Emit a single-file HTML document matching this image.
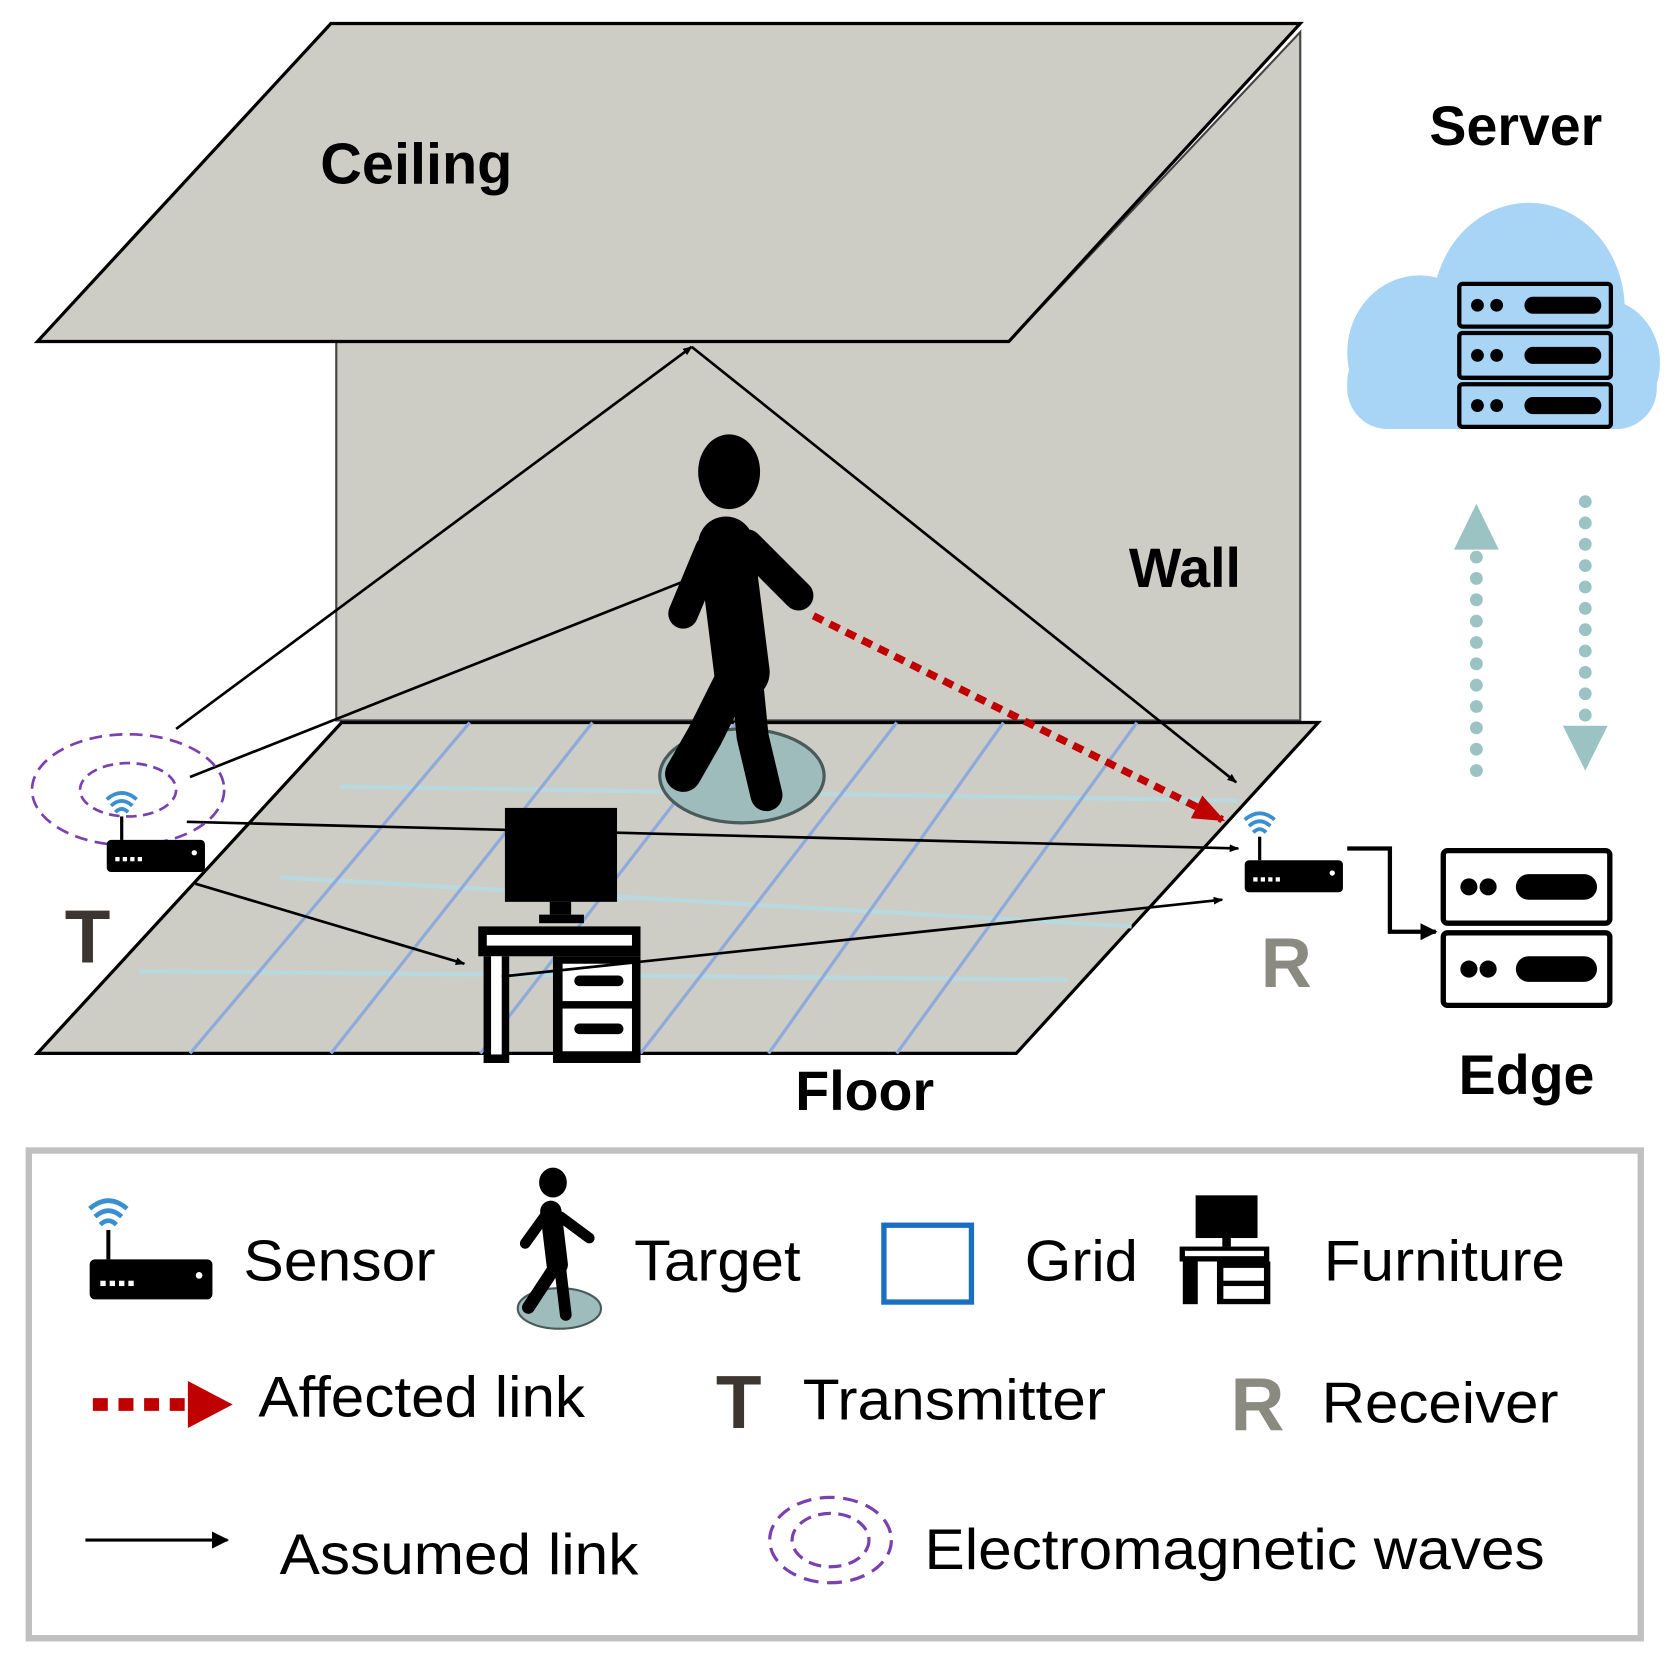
<!DOCTYPE html>
<html><head><meta charset="utf-8"><style>html,body{margin:0;padding:0;background:#fff}svg{display:block}</style></head>
<body>
<svg width="1676" height="1666" viewBox="0 0 1570 1561" preserveAspectRatio="none" xmlns="http://www.w3.org/2000/svg" font-family="Liberation Sans, Arial, sans-serif">
<defs>
<marker id="ah" viewBox="0 0 10 10" refX="9" refY="5" markerWidth="9" markerHeight="9" orient="auto" markerUnits="userSpaceOnUse"><path d="M0,1 L10,5 L0,9 z" fill="#000"/></marker>
<marker id="ahb" viewBox="0 0 10 10" refX="9" refY="5" markerWidth="16" markerHeight="16" orient="auto" markerUnits="userSpaceOnUse"><path d="M0,0 L10,5 L0,10 z" fill="#000"/></marker>
<marker id="ahr" viewBox="0 0 10 10" refX="9" refY="5" markerWidth="30" markerHeight="30" orient="auto" markerUnits="userSpaceOnUse"><path d="M0,1 L10,5 L0,9 z" fill="#c00000"/></marker>
<g id="router"><rect x="0" y="0" width="92" height="30" rx="4" fill="#000"/><rect x="8" y="16" width="4" height="4" fill="#fff"/><rect x="15" y="16" width="4" height="4" fill="#fff"/><rect x="22" y="16" width="4" height="4" fill="#fff"/><rect x="29" y="16" width="4" height="4" fill="#fff"/><circle cx="82" cy="12" r="2.5" fill="#fff"/><line x1="14" y1="0" x2="14" y2="-22" stroke="#000" stroke-width="3"/>
<path d="M8,-26 Q14,-32 20,-26 M4,-32 Q14,-41 24,-32 M0,-38 Q14,-50 28,-38" fill="none" stroke="#3a8fd0" stroke-width="3.5"/></g>
<g id="srv"><rect x="0" y="0" width="156" height="68" rx="4" fill="#fff" stroke="#000" stroke-width="5"/><circle cx="24" cy="34" r="8" fill="#000"/><circle cx="42" cy="34" r="8" fill="#000"/><rect x="68" y="22" width="76" height="24" rx="12" fill="#000"/></g>
</defs>

<!-- wall -->
<polygon points="315,320 945,320 1218,30 1218,675 315,675" fill="#cdcdc5" stroke="#444" stroke-width="2"/>
<!-- ceiling -->
<polygon points="35,320 310,22 1218,22 945,320" fill="#cdcdc5" stroke="#000" stroke-width="3"/>
<!-- floor -->
<polygon points="35,987 320,677 1235,677 952,987" fill="#cdcdc5" stroke="#000" stroke-width="3"/>
<!-- grid -->
<g stroke="#b9d9e0" stroke-width="4"><line x1="318" y1="737" x2="1160" y2="750"/><line x1="262" y1="822" x2="1060" y2="868"/><line x1="130" y1="910" x2="1000" y2="918"/></g>
<g stroke="#8eaadc" stroke-width="3"><line x1="178" y1="987" x2="440" y2="677"/><line x1="310" y1="987" x2="555" y2="677"/><line x1="450" y1="987" x2="690" y2="677"/><line x1="600" y1="987" x2="840" y2="677"/><line x1="720" y1="987" x2="940" y2="677"/><line x1="840" y1="987" x2="1065" y2="677"/></g>

<!-- shadow & person -->
<ellipse cx="695" cy="727" rx="77" ry="44" fill="#9fbcbc" stroke="#4a5a5a" stroke-width="3"/>
<ellipse cx="683" cy="442" rx="29" ry="35" fill="#000"/>
<g stroke="#000" stroke-linecap="round" stroke-linejoin="round" fill="none">
<path d="M680,510 L695,630" stroke-width="52"/>
<path d="M665,515 L640,575" stroke-width="28"/>
<path d="M700,510 L748,558" stroke-width="28"/>
<path d="M685,640 L660,690 L640,725" stroke-width="34"/>
<path d="M700,640 L705,690 L718,745" stroke-width="30"/>
</g>

<!-- desk -->
<rect x="473" y="757" width="105" height="88" fill="#000"/>
<rect x="515" y="845" width="20" height="12" fill="#000"/>
<rect x="505" y="857" width="42" height="8" fill="#000"/>
<rect x="448" y="868" width="152" height="28" fill="#000"/><rect x="456" y="876" width="136" height="10" fill="#fff"/>
<rect x="453" y="896" width="24" height="100" fill="#000"/><rect x="460" y="896" width="10" height="92" fill="#fff"/>
<rect x="518" y="896" width="82" height="100" fill="#000"/>
<rect x="527" y="903" width="65" height="35" fill="#fff"/><rect x="527" y="945" width="65" height="40" fill="#fff"/>
<rect x="538" y="914" width="46" height="10" rx="5" fill="#000"/><rect x="538" y="959" width="46" height="10" rx="5" fill="#000"/>

<!-- links -->
<g stroke="#000" stroke-width="2.5" fill="none" marker-end="url(#ah)">
<line x1="165" y1="683" x2="648" y2="325"/>
<line x1="648" y1="325" x2="1158" y2="733"/>
<line x1="178" y1="728" x2="640" y2="545" marker-end="none"/>
<line x1="175" y1="770" x2="1160" y2="795"/>
<line x1="183" y1="828" x2="435" y2="903"/>
<line x1="470" y1="915" x2="1145" y2="843"/>
</g>
<line x1="762" y1="577" x2="1145" y2="768" stroke="#c00000" stroke-width="7" stroke-dasharray="10,7" marker-end="url(#ahr)"/>

<!-- transmitter -->
<ellipse cx="120" cy="740" rx="90" ry="52" fill="none" stroke="#7a3fb0" stroke-width="2.5" stroke-dasharray="12,7"/>
<ellipse cx="120" cy="740" rx="45" ry="25" fill="none" stroke="#7a3fb0" stroke-width="2.5" stroke-dasharray="10,6"/>
<use href="#router" x="100" y="787"/>
<text x="82" y="902" font-size="70" font-weight="bold" fill="#3d3530" text-anchor="middle">T</text>

<!-- receiver -->
<use href="#router" x="1166" y="806"/>
<text x="1205" y="925" font-size="66" font-weight="bold" fill="#8a8a80" text-anchor="middle">R</text>
<polyline points="1262,795 1302,795 1302,873 1345,873" fill="none" stroke="#000" stroke-width="4" marker-end="url(#ahb)"/>
<use href="#srv" x="1352" y="797"/>
<use href="#srv" x="1352" y="874"/>

<!-- cloud -->
<g fill="#a8d4f5">
<ellipse cx="1432" cy="290" rx="90" ry="100"/>
<ellipse cx="1330" cy="330" rx="68" ry="72"/>
<ellipse cx="1500" cy="340" rx="55" ry="60"/>
<rect x="1262" y="320" width="290" height="82" rx="38"/>
</g>
<g fill="#a8d4f5" stroke="#000" stroke-width="4">
<rect x="1367" y="266" width="142" height="40" rx="3"/><rect x="1367" y="312" width="142" height="42" rx="3"/><rect x="1367" y="360" width="142" height="40" rx="3"/>
</g>
<g fill="#000"><circle cx="1384" cy="286" r="6"/><circle cx="1402" cy="286" r="6"/><rect x="1428" y="278" width="72" height="16" rx="8"/>
<circle cx="1384" cy="333" r="6"/><circle cx="1402" cy="333" r="6"/><rect x="1428" y="325" width="72" height="16" rx="8"/>
<circle cx="1384" cy="380" r="6"/><circle cx="1402" cy="380" r="6"/><rect x="1428" y="372" width="72" height="16" rx="8"/></g>

<!-- dotted arrows -->
<line x1="1383" y1="722" x2="1383" y2="520" stroke="#9cc3c3" stroke-width="12" stroke-linecap="round" stroke-dasharray="0,20"/>
<polygon points="1362,515 1383,472 1404,515" fill="#9cc3c3"/>
<line x1="1485" y1="470" x2="1485" y2="675" stroke="#9cc3c3" stroke-width="12" stroke-linecap="round" stroke-dasharray="0,20"/>
<polygon points="1464,680 1485,722 1506,680" fill="#9cc3c3"/>

<!-- labels -->
<g font-weight="bold" fill="#000" text-anchor="middle">
<text x="390" y="172" font-size="54">Ceiling</text>
<text x="1110" y="550" font-size="52">Wall</text>
<text x="810" y="1040" font-size="52">Floor</text>
<text x="1420" y="136" font-size="52">Server</text>
<text x="1430" y="1025" font-size="52">Edge</text>
</g>

<!-- legend -->
<rect x="27" y="1078" width="1510" height="457" fill="#fff" stroke="#c0c0c0" stroke-width="6"/>
<use href="#router" transform="translate(84,1180) scale(1.25)"/>
<g font-size="54" fill="#000">
<text x="228" y="1200" textLength="180" lengthAdjust="spacingAndGlyphs">Sensor</text>
<text x="594" y="1200" textLength="156" lengthAdjust="spacingAndGlyphs">Target</text>
<text x="960" y="1200" textLength="106" lengthAdjust="spacingAndGlyphs">Grid</text>
<text x="1240" y="1200" textLength="226" lengthAdjust="spacingAndGlyphs">Furniture</text>
<text x="242" y="1327" textLength="306" lengthAdjust="spacingAndGlyphs">Affected link</text>
<text x="752" y="1330" textLength="284" lengthAdjust="spacingAndGlyphs">Transmitter</text>
<text x="1238" y="1333" textLength="222" lengthAdjust="spacingAndGlyphs">Receiver</text>
<text x="262" y="1475" textLength="336" lengthAdjust="spacingAndGlyphs">Assumed link</text>
<text x="866" y="1470" textLength="581" lengthAdjust="spacingAndGlyphs">Electromagnetic waves</text>
</g>
<!-- legend target -->
<ellipse cx="524" cy="1226" rx="39" ry="19" fill="#9fbcbc" stroke="#4a5a5a" stroke-width="2"/>
<ellipse cx="518" cy="1108" rx="13" ry="14" fill="#000"/>
<g stroke="#000" stroke-linecap="round" fill="none">
<path d="M516,1135 L522,1185" stroke-width="20"/><path d="M510,1140 L492,1165" stroke-width="10"/><path d="M525,1140 L552,1160" stroke-width="10"/>
<path d="M518,1190 L495,1225" stroke-width="12"/><path d="M525,1190 L530,1232" stroke-width="11"/></g>
<rect x="828" y="1148" width="82" height="72" fill="none" stroke="#1a6fc0" stroke-width="5"/>
<!-- legend furniture -->
<rect x="1120" y="1120" width="58" height="40" fill="#000"/><rect x="1145" y="1160" width="8" height="8" fill="#000"/>
<rect x="1105" y="1168" width="84" height="14" fill="#000"/><rect x="1110" y="1172" width="74" height="5" fill="#fff"/>
<rect x="1108" y="1182" width="14" height="40" fill="#000"/><rect x="1140" y="1182" width="50" height="40" fill="#000"/>
<rect x="1146" y="1188" width="38" height="12" fill="#fff"/><rect x="1146" y="1205" width="38" height="12" fill="#fff"/>
<!-- legend row2 -->
<line x1="87" y1="1316" x2="175" y2="1316" stroke="#c00000" stroke-width="12" stroke-dasharray="14,10"/>
<polygon points="176,1294 218,1316 176,1338" fill="#c00000"/>
<text x="692" y="1338" font-size="70" font-weight="bold" fill="#3d3530" text-anchor="middle">T</text>
<text x="1178" y="1340" font-size="70" font-weight="bold" fill="#8a8a80" text-anchor="middle">R</text>
<!-- legend row3 -->
<line x1="80" y1="1443" x2="213" y2="1443" stroke="#000" stroke-width="3" marker-end="url(#ahb)"/>
<ellipse cx="778" cy="1443" rx="57" ry="40" fill="none" stroke="#7a3fb0" stroke-width="3" stroke-dasharray="14,8"/>
<ellipse cx="778" cy="1443" rx="36" ry="25" fill="none" stroke="#7a3fb0" stroke-width="3" stroke-dasharray="12,7"/>
</svg>
</body></html>
